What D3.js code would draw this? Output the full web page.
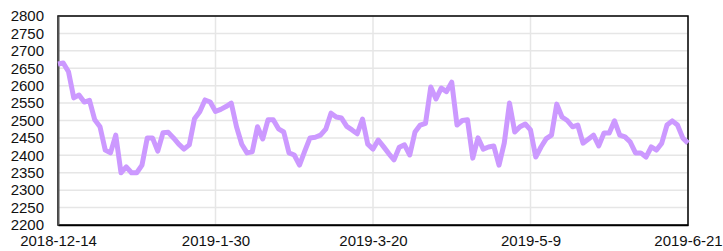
<!DOCTYPE html>
<html>
<head>
<meta charset="utf-8">
<script src="https://cdn.jsdelivr.net/npm/d3@7"></script>
<style>
  body { margin: 0; background: #fff; }
  svg text { font-family: "Liberation Sans", Arial, sans-serif; }
</style>
</head>
<body>
<svg id="chart" width="723" height="251"></svg>
<script>
// data
const xTickLabels = ['2018-12-14', '2019-1-30', '2019-3-20', '2019-5-9', '2019-6-21'];
const xTickStep = 30;
const values = [
    2662, 2665, 2640, 2565, 2573, 2553, 2558, 2502, 2482, 2415,
    2407, 2458, 2350, 2367, 2350, 2350, 2372, 2450, 2450, 2412,
    2465, 2466, 2450, 2432, 2418, 2430, 2505, 2525, 2559, 2553,
    2526, 2532, 2540, 2550, 2482, 2432, 2407, 2410, 2482, 2447,
    2502, 2502, 2476, 2467, 2407, 2401, 2372, 2412, 2450, 2452,
    2458, 2475, 2521, 2510, 2507, 2483, 2473, 2462, 2504, 2432,
    2418, 2444, 2425, 2405, 2387, 2423, 2430, 2401, 2467, 2487,
    2492, 2596, 2562, 2593, 2583, 2610, 2487, 2500, 2502, 2392,
    2450, 2418, 2424, 2427, 2372, 2435, 2550, 2467, 2482, 2490,
    2473, 2395, 2424, 2448, 2458, 2547, 2510, 2500, 2482, 2487,
    2435, 2446, 2458, 2427, 2464, 2464, 2499, 2458, 2453, 2438,
    2407, 2407, 2395, 2424, 2415, 2435, 2487, 2499, 2487, 2450,
    2435
];
const yTicks = d3.range(2200, 2801, 50);

const width = 723, height = 251;
const margins = { top: 16, right: 35, bottom: 26, left: 58 };

const svg = d3.select('#chart');

const x = d3.scaleLinear()
    .domain([0, values.length - 1])
    .range([margins.left, width - margins.right]);
const y = d3.scaleLinear()
    .domain([2200, 2800])
    .range([height - margins.bottom, margins.top]);

const xTickValues = xTickLabels.map((d, i) => i * xTickStep);

// grid
svg.append('g')
    .selectAll('line')
    .data(yTicks)
    .join('line')
    .attr('x1', margins.left).attr('x2', width - margins.right)
    .attr('y1', d => y(d)).attr('y2', d => y(d))
    .attr('stroke', '#e6e6e6')
    .attr('stroke-width', 1.5);
svg.append('g')
    .selectAll('line')
    .data(xTickValues)
    .join('line')
    .attr('x1', d => x(d)).attr('x2', d => x(d))
    .attr('y1', margins.top).attr('y2', height - margins.bottom)
    .attr('stroke', '#e6e6e6')
    .attr('stroke-width', 1.5);

// frame
svg.append('rect')
    .attr('x', margins.left)
    .attr('y', margins.top)
    .attr('width', width - margins.left - margins.right)
    .attr('height', height - margins.top - margins.bottom)
    .attr('fill', 'none')
    .attr('stroke', '#000')
    .attr('stroke-width', 1.5);

// Y axis
const yAxis = d3.axisLeft(y)
    .tickValues(yTicks)
    .tickFormat(d3.format('d'))
    .tickSize(0)
    .tickPadding(14);
svg.append('g')
    .attr('transform', `translate(${margins.left},0)`)
    .call(yAxis)
    .call(g => g.select('.domain').attr('stroke', '#555').attr('stroke-width', 2))
    .call(g => g.selectAll('text').attr('font-size', 15).attr('fill', '#111'));

// X axis
const xAxis = d3.axisBottom(x)
    .tickValues(xTickValues)
    .tickFormat((d, i) => xTickLabels[i])
    .tickSize(0)
    .tickPadding(10);
svg.append('g')
    .attr('transform', `translate(0,${height - margins.bottom})`)
    .call(xAxis)
    .call(g => g.select('.domain').attr('stroke', '#000').attr('stroke-width', 1.5))
    .call(g => g.selectAll('text').attr('font-size', 15).attr('fill', '#111'));

// line
const line = d3.line()
    .x((d, i) => x(i))
    .y(d => y(d));
svg.append('path')
    .datum(values)
    .attr('d', line)
    .attr('fill', 'none')
    .attr('stroke', '#cc99ff')
    .attr('stroke-width', 5)
    .attr('stroke-linejoin', 'round');
</script>
</body>
</html>
